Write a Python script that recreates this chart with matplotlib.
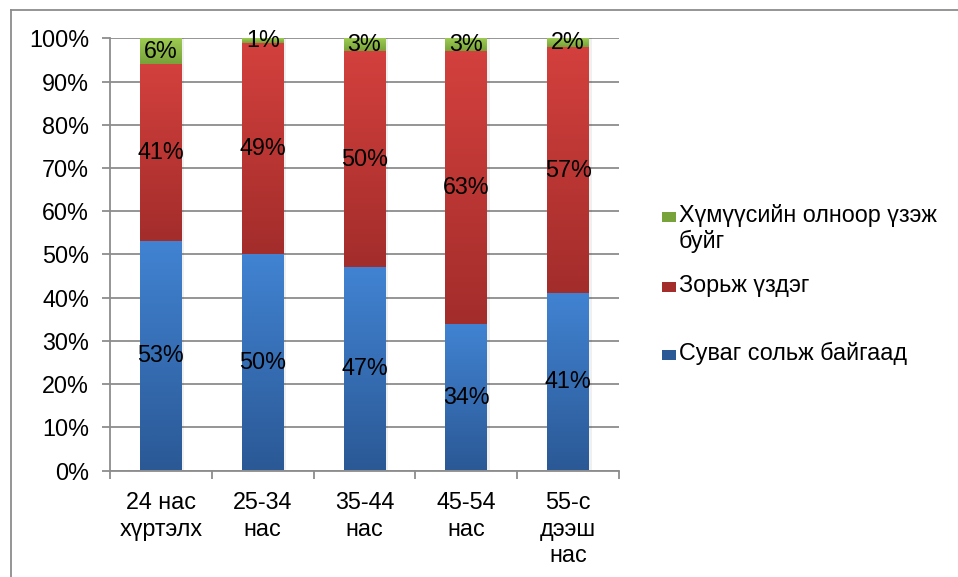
import matplotlib
matplotlib.use("Agg")
import matplotlib.pyplot as plt
import numpy as np
from matplotlib.colors import LinearSegmentedColormap
from matplotlib.lines import Line2D
from matplotlib.patches import Rectangle

categories = ["24 нас\nхүртэлх", "25-34\nнас", "35-44\nнас", "45-54\nнас", "55-с\nдээш\nнас"]
channel = [53, 50, 47, 34, 41]      # Суваг сольж байгаад
intended = [41, 49, 50, 63, 57]     # Зорьж үздэг
crowd = [6, 1, 3, 3, 2]             # Хүмүүсийн олноор үзэж буйг
series_names = ["Суваг сольж байгаад", "Зорьж үздэг", "Хүмүүсийн олноор үзэж\nбуйг"]

# (top colour, bottom colour) of the vertical gradient of each series
grads = [("#4183d2", "#2b5996"), ("#d3403d", "#a32d2b"), ("#9dcb52", "#78a23a")]

plt.rcParams["font.family"] = ["Liberation Sans", "DejaVu Sans"]
FS = 16.8

W, H = 958, 577
fig = plt.figure(figsize=(W / 100, H / 100), dpi=100)
ax = fig.add_axes([110 / W, 1 - 470.5 / H, 509 / W, 432.2 / H])

x = np.arange(len(categories))
data = [channel, intended, crowd]
bottom = np.zeros(len(categories))
for vals, (c_top, c_bot) in zip(data, grads):
    vals = np.array(vals, dtype=float)
    bars = ax.bar(x, vals, 0.41, bottom=bottom, color="none", linewidth=0, zorder=2)
    cmap = LinearSegmentedColormap.from_list("g", [c_bot, c_top])
    for p, v in zip(bars.patches, vals):
        x0, y0, w, h = p.get_x(), p.get_y(), p.get_width(), p.get_height()
        # faint shadow on the right
        ax.add_patch(Rectangle((x0 + w, y0), 0.025, h, color="#000000", alpha=0.06,
                               linewidth=0, zorder=1.5))
        grad = np.linspace(0, 1, 64).reshape(-1, 1)
        ax.imshow(grad, cmap=cmap, extent=[x0, x0 + w, y0, y0 + h], origin="lower",
                  aspect="auto", zorder=2, interpolation="bilinear")
        ax.text(x0 + w / 2, y0 + h / 2, f"{v:.0f}%", ha="center", va="center",
                fontsize=FS, color="black", zorder=4)
    bottom += vals

ax.set_xlim(-0.5, len(categories) - 0.5)
ax.set_ylim(0, 100)
ax.set_yticks(np.arange(0, 101, 10))
ax.set_yticklabels([f"{t}%" for t in range(0, 101, 10)], fontsize=FS)
ax.yaxis.grid(True, color="#8c8c8c", linewidth=1.3, zorder=0)
ax.set_axisbelow(True)

ax.set_xticks(np.arange(-0.5, len(categories), 1.0))
ax.set_xticklabels([])
ax.set_xticks(x, minor=True)
ax.set_xticklabels(categories, minor=True, fontsize=FS, linespacing=1.18)
ax.tick_params(axis="x", which="minor", length=0, pad=15)
ax.tick_params(axis="x", which="major", length=6, width=1.3, color="#8c8c8c", direction="out")
ax.tick_params(axis="y", length=6, width=1.3, color="#8c8c8c", pad=9)

for s in ["top", "right"]:
    ax.spines[s].set_visible(False)
for s in ["left", "bottom"]:
    ax.spines[s].set_color("#8c8c8c")
    ax.spines[s].set_linewidth(1.3)

# legend, placed like the original
leg_y = [355, 287, 217]
for (c_top, c_bot), name, yy in zip(grads, series_names, leg_y):
    fig.patches.append(Rectangle((662 / W, 1 - (yy + 5) / H), 14 / W, 10 / H,
                                 transform=fig.transFigure, facecolor=c_bot,
                                 edgecolor="none"))
    fig.text(679 / W, 1 - (yy - 13) / H, name, fontsize=FS, va="top", ha="left",
             linespacing=1.15)

# chart frame (only top and left edges visible)
fig.add_artist(Line2D([11 / W, 1], [1 - 10 / H, 1 - 10 / H], transform=fig.transFigure,
                      color="#8c8c8c", linewidth=1.3))
fig.add_artist(Line2D([11 / W, 11 / W], [0, 1 - 10 / H], transform=fig.transFigure,
                      color="#8c8c8c", linewidth=1.3))

fig.savefig("out.png", dpi=100)
